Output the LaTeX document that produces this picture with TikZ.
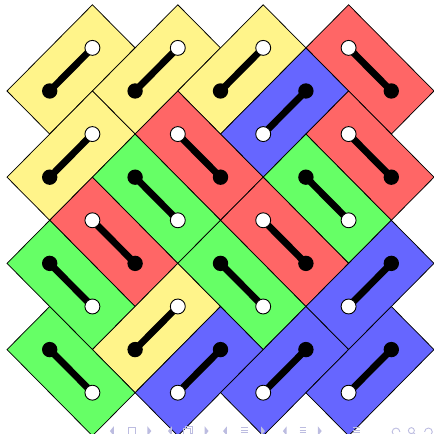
\documentclass[tikz,border=0pt]{standalone}
\usepackage{tikz}
\definecolor{tileyellow}{RGB}{255,244,138}
\definecolor{navgray}{RGB}{188,188,224}
\pgfdeclarelayer{front}
\pgfsetlayers{main,front}
\tikzset{
  tile/.style={draw=black, line width=0.5pt, line join=miter},
  bar/.style={line width=0.16cm, draw=black, line cap=round},
  blackend/.style={circle, fill=black, inner sep=0pt, minimum size=0.36cm},
  whiteend/.style={circle, fill=white, draw=black, line width=0.6pt, inner sep=0pt, minimum size=0.35cm},
  navsym/.style={fill=navgray, draw=none},
  navline/.style={draw=navgray, line width=0.6pt},
}
\begin{document}
\begin{tikzpicture}[x=1cm, y=1.0094cm]
\useasboundingbox (-0.164,0.042) rectangle (10.0,10.111);
\draw[tile, fill=tileyellow] (0,8) -- (1,7) -- (3,9) -- (2,10) -- cycle;
\draw[tile, fill=tileyellow] (2,8) -- (3,7) -- (5,9) -- (4,10) -- cycle;
\draw[tile, fill=tileyellow] (4,8) -- (5,7) -- (7,9) -- (6,10) -- cycle;
\draw[tile, fill=red!60] (7,9) -- (8,10) -- (10,8) -- (9,7) -- cycle;
\draw[tile, fill=blue!60] (5,7) -- (6,6) -- (8,8) -- (7,9) -- cycle;
\draw[tile, fill=tileyellow] (0,6) -- (1,5) -- (3,7) -- (2,8) -- cycle;
\draw[tile, fill=red!60] (3,7) -- (4,8) -- (6,6) -- (5,5) -- cycle;
\draw[tile, fill=red!60] (7,7) -- (8,8) -- (10,6) -- (9,5) -- cycle;
\draw[tile, fill=green!60] (2,6) -- (3,7) -- (5,5) -- (4,4) -- cycle;
\draw[tile, fill=green!60] (6,6) -- (7,7) -- (9,5) -- (8,4) -- cycle;
\draw[tile, fill=red!60] (1,5) -- (2,6) -- (4,4) -- (3,3) -- cycle;
\draw[tile, fill=red!60] (5,5) -- (6,6) -- (8,4) -- (7,3) -- cycle;
\draw[tile, fill=green!60] (0,4) -- (1,5) -- (3,3) -- (2,2) -- cycle;
\draw[tile, fill=green!60] (4,4) -- (5,5) -- (7,3) -- (6,2) -- cycle;
\draw[tile, fill=blue!60] (7,3) -- (8,2) -- (10,4) -- (9,5) -- cycle;
\draw[tile, fill=tileyellow] (2,2) -- (3,1) -- (5,3) -- (4,4) -- cycle;
\draw[tile, fill=green!60] (0,2) -- (1,3) -- (3,1) -- (2,0) -- cycle;
\draw[tile, fill=blue!60] (3,1) -- (4,0) -- (6,2) -- (5,3) -- cycle;
\draw[tile, fill=blue!60] (5,1) -- (6,0) -- (8,2) -- (7,3) -- cycle;
\draw[tile, fill=blue!60] (7,1) -- (8,0) -- (10,2) -- (9,3) -- cycle;
\begin{pgfonlayer}{front}
\node[blackend] (b1) at (1,8) {};  \node[whiteend] (w1) at (2,9) {};
\node[blackend] (b2) at (3,8) {};  \node[whiteend] (w2) at (4,9) {};
\node[blackend] (b3) at (5,8) {};  \node[whiteend] (w3) at (6,9) {};
\node[blackend] (b4) at (9,8) {};  \node[whiteend] (w4) at (8,9) {};
\node[blackend] (b5) at (7,8) {};  \node[whiteend] (w5) at (6,7) {};
\node[blackend] (b6) at (1,6) {};  \node[whiteend] (w6) at (2,7) {};
\node[blackend] (b7) at (5,6) {};  \node[whiteend] (w7) at (4,7) {};
\node[blackend] (b8) at (9,6) {};  \node[whiteend] (w8) at (8,7) {};
\node[blackend] (b9) at (3,6) {};  \node[whiteend] (w9) at (4,5) {};
\node[blackend] (b10) at (7,6) {}; \node[whiteend] (w10) at (8,5) {};
\node[blackend] (b11) at (3,4) {}; \node[whiteend] (w11) at (2,5) {};
\node[blackend] (b12) at (7,4) {}; \node[whiteend] (w12) at (6,5) {};
\node[blackend] (b13) at (1,4) {}; \node[whiteend] (w13) at (2,3) {};
\node[blackend] (b14) at (5,4) {}; \node[whiteend] (w14) at (6,3) {};
\node[blackend] (b15) at (9,4) {}; \node[whiteend] (w15) at (8,3) {};
\node[blackend] (b16) at (3,2) {}; \node[whiteend] (w16) at (4,3) {};
\node[blackend] (b17) at (1,2) {}; \node[whiteend] (w17) at (2,1) {};
\node[blackend] (b18) at (5,2) {}; \node[whiteend] (w18) at (4,1) {};
\node[blackend] (b19) at (7,2) {}; \node[whiteend] (w19) at (6,1) {};
\node[blackend] (b20) at (9,2) {}; \node[whiteend] (w20) at (8,1) {};
\end{pgfonlayer}
\draw[bar] (b1.center) -- (w1.center);
\draw[bar] (b2.center) -- (w2.center);
\draw[bar] (b3.center) -- (w3.center);
\draw[bar] (b4.center) -- (w4.center);
\draw[bar] (b5.center) -- (w5.center);
\draw[bar] (b6.center) -- (w6.center);
\draw[bar] (b7.center) -- (w7.center);
\draw[bar] (b8.center) -- (w8.center);
\draw[bar] (b9.center) -- (w9.center);
\draw[bar] (b10.center) -- (w10.center);
\draw[bar] (b11.center) -- (w11.center);
\draw[bar] (b12.center) -- (w12.center);
\draw[bar] (b13.center) -- (w13.center);
\draw[bar] (b14.center) -- (w14.center);
\draw[bar] (b15.center) -- (w15.center);
\draw[bar] (b16.center) -- (w16.center);
\draw[bar] (b17.center) -- (w17.center);
\draw[bar] (b18.center) -- (w18.center);
\draw[bar] (b19.center) -- (w19.center);
\draw[bar] (b20.center) -- (w20.center);
\begin{pgfonlayer}{front}
\fill[navsym] (2.50,0.22) -- (2.41,0.11) -- (2.50,0.00) -- cycle;
\draw[navline] (2.84,0.01) rectangle (3.01,0.20);
\fill[navsym] (3.29,0.22) -- (3.38,0.11) -- (3.29,0.00) -- cycle;
\fill[navsym] (3.86,0.22) -- (3.77,0.11) -- (3.86,0.00) -- cycle;
\draw[navline] (4.14,0.01) rectangle (4.30,0.17);
\draw[navline] (4.19,0.17) -- (4.19,0.22) -- (4.35,0.22) -- (4.35,0.06) -- (4.30,0.06);
\fill[navsym] (4.63,0.22) -- (4.72,0.11) -- (4.63,0.00) -- cycle;
\fill[navsym] (5.15,0.22) -- (5.06,0.11) -- (5.15,0.00) -- cycle;
\draw[navline] (5.49,0.19) -- (5.65,0.19) (5.49,0.13) -- (5.65,0.13) (5.49,0.07) -- (5.65,0.07);
\fill[navsym] (5.95,0.22) -- (6.04,0.11) -- (5.95,0.00) -- cycle;
\fill[navsym] (6.55,0.22) -- (6.46,0.11) -- (6.55,0.00) -- cycle;
\draw[navline] (6.85,0.19) -- (7.01,0.19) (6.85,0.13) -- (7.01,0.13) (6.85,0.07) -- (7.01,0.07);
\fill[navsym] (7.28,0.22) -- (7.37,0.11) -- (7.28,0.00) -- cycle;
\draw[navline] (8.11,0.19) -- (8.27,0.19) (8.11,0.13) -- (8.27,0.13) (8.11,0.07) -- (8.27,0.07);
\draw[navline] (9.20,0.09) arc (0:230:0.09);
\draw[navline] (9.47,0.12) circle (0.07);
\draw[navline] (9.52,0.07) -- (9.58,0.01);
\draw[navline] (9.78,0.09) arc (180:-50:0.09);
\end{pgfonlayer}
\end{tikzpicture}
\end{document}
